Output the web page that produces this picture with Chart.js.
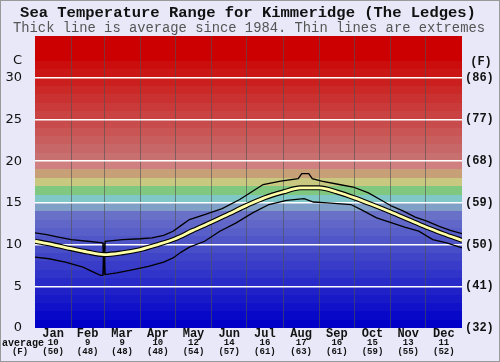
<!DOCTYPE html>
<html>
<head>
<meta charset="utf-8">
<script src="https://cdn.jsdelivr.net/npm/chart.js@4"></script>
<style>
  html, body { margin: 0; padding: 0; background: #e8e8f8; }
  canvas { display: block; }
</style>
</head>
<body>
<canvas id="seaChart" width="500" height="362"></canvas>
<script>
// month layout (day of year)
const monthStarts = [0, 31, 59, 90, 120, 151, 181, 212, 243, 273, 304, 334, 365];
const monthNames = ['Jan', 'Feb', 'Mar', 'Apr', 'May', 'Jun', 'Jul', 'Aug', 'Sep', 'Oct', 'Nov', 'Dec'];
const monthAvgC = ['10', '9', '9', '10', '12', '14', '16', '17', '16', '15', '13', '11'];
const monthAvgF = ['(50)', '(48)', '(48)', '(48)', '(54)', '(57)', '(61)', '(63)', '(61)', '(59)', '(55)', '(52)'];

// axis labels
const celsiusTicks = [0, 5, 10, 15, 20, 25, 30];
const fahrenheitTicks = ['(32)', '(41)', '(50)', '(59)', '(68)', '(77)', '(86)'];

// average since 1984
const avgDays = [0, 15, 31, 45, 59, 74, 90, 105, 120, 135, 151, 166, 181, 196, 212, 227, 243, 258, 273, 288, 304, 319, 334, 349, 365];
const avgTemps = [10.4, 10.0, 9.5, 9.1, 8.8, 9.0, 9.4, 10.0, 10.7, 11.7, 12.7, 13.7, 14.7, 15.6, 16.3, 16.8, 16.8, 16.3, 15.6, 14.8, 13.9, 13.0, 12.1, 11.3, 10.5];

// highest recorded
const maxDays = [0, 10, 20, 31, 45, 58, 59, 60, 75, 90, 100, 110, 118, 125, 132, 145, 160, 175, 186, 195, 210, 225, 228, 234, 237, 245, 260, 272, 285, 295, 305, 315, 325, 335, 345, 355, 365];
const maxTemps = [11.4, 11.2, 10.9, 10.6, 10.4, 10.2, 6.4, 10.4, 10.6, 10.7, 10.8, 11.1, 11.6, 12.3, 13.0, 13.6, 14.3, 15.4, 16.4, 17.2, 17.6, 17.9, 18.5, 18.5, 17.9, 17.6, 17.2, 16.9, 16.2, 15.4, 14.6, 14.0, 13.3, 12.8, 12.2, 11.7, 11.3];

// lowest recorded
const minDays = [0, 12, 26, 41, 50, 56, 58, 59, 60, 70, 84, 97, 110, 118, 125, 132, 145, 158, 172, 186, 200, 215, 230, 238, 250, 270, 280, 292, 305, 316, 328, 340, 352, 365];
const minTemps = [8.5, 8.3, 7.9, 7.3, 6.7, 6.3, 6.3, 10.2, 6.4, 6.6, 7.0, 7.4, 7.9, 8.4, 9.1, 9.7, 10.4, 11.6, 12.6, 13.8, 14.8, 15.3, 15.5, 15.1, 15.0, 14.8, 14.1, 13.2, 12.6, 12.1, 11.6, 10.6, 10.2, 9.6];

const toPoints = (xs, ys) => xs.map((x, i) => ({ x: x, y: ys[i] }));

// one colour band per degree, blue at the bottom to red at the top
function bandColour(t) {
    if (t < 14) return `rgb(${Math.round(t * 8)},${Math.round(t * 8.6)},200)`;
    const mid = { 14: 'rgb(128,160,200)', 15: 'rgb(128,200,200)', 16: 'rgb(128,200,128)',
                  17: 'rgb(200,200,128)', 18: 'rgb(200,160,120)', 19: 'rgb(208,128,128)' };
    if (mid[t]) return mid[t];
    if (t < 32) {
        const g = Math.max(0, 112 - (t - 20) * 9);
        return `rgb(${200 + Math.round((t - 20) / 3)},${g},${g})`;
    }
    return 'rgb(204,0,0)';
}

const bandsPlugin = {
    id: 'bands',
    beforeDraw(chart) {
        const { ctx, chartArea: a, scales: { y } } = chart;
        ctx.save();
        ctx.fillStyle = '#e8e8f8';
        ctx.fillRect(0, 0, chart.width, chart.height);
        for (let t = 0; t < 35; t++) {
            const yBottom = Math.round(y.getPixelForValue(t));
            const yTop = Math.round(y.getPixelForValue(t + 1));
            ctx.fillStyle = bandColour(t);
            ctx.fillRect(a.left, yTop, a.right - a.left, yBottom - yTop);
        }
        ctx.restore();
    }
};

const textPlugin = {
    id: 'texts',
    afterDraw(chart) {
        const { ctx, scales: { x } } = chart;
        ctx.save();
        ctx.textBaseline = 'middle';
        ctx.textAlign = 'center';
        ctx.fillStyle = '#111';
        ctx.font = 'bold 15.5px "Liberation Mono", monospace';
        ctx.fillText('Sea Temperature Range for Kimmeridge (The Ledges)', 248, 13);
        ctx.fillStyle = '#555';
        ctx.font = '13.8px "Liberation Mono", monospace';
        ctx.fillText('Thick line is average since 1984. Thin lines are extremes', 249, 28);

        ctx.fillStyle = '#111';
        ctx.textAlign = 'right';
        ctx.font = '13px "DejaVu Sans", sans-serif';
        ctx.fillText('C', 22, 61);
        ctx.textAlign = 'center';
        ctx.font = 'bold 12px "Liberation Mono", monospace';
        ctx.fillText('(F)', 481, 62);

        for (let i = 0; i < monthNames.length; i++) {
            const cx = x.getPixelForValue((monthStarts[i] + monthStarts[i + 1]) / 2);
            ctx.font = 'bold 12px "Liberation Mono", monospace';
            ctx.fillText(monthNames[i], cx, 334);
            ctx.font = 'bold 9px "Liberation Mono", monospace';
            ctx.fillText(monthAvgC[i], cx, 343);
            ctx.fillText(monthAvgF[i], cx, 352);
        }
        ctx.font = 'bold 10px "Liberation Mono", monospace';
        ctx.fillText('average', 23, 343);
        ctx.font = 'bold 9px "Liberation Mono", monospace';
        ctx.fillText('(F)', 20, 352);

        ctx.strokeStyle = '#999';
        ctx.lineWidth = 1;
        ctx.strokeRect(0.5, 0.5, chart.width - 1, chart.height - 1);
        ctx.restore();
    }
};

// first dataset is drawn on top, so the yellow average comes first
const ctx = document.getElementById('seaChart').getContext('2d');
new Chart(ctx, {
    type: 'line',
    data: {
        datasets: [
            {
                label: 'Average',
                data: toPoints(avgDays, avgTemps),
                borderColor: '#ffffa8',
                borderWidth: 2.8,
                pointRadius: 0,
                cubicInterpolationMode: 'monotone'
            },
            {
                label: 'Average outline',
                data: toPoints(avgDays, avgTemps),
                borderColor: '#000',
                borderWidth: 5,
                pointRadius: 0,
                cubicInterpolationMode: 'monotone'
            },
            {
                label: 'Max',
                data: toPoints(maxDays, maxTemps),
                borderColor: '#000',
                borderWidth: 1.3,
                pointRadius: 0,
                tension: 0
            },
            {
                label: 'Min',
                data: toPoints(minDays, minTemps),
                borderColor: '#000',
                borderWidth: 1.3,
                pointRadius: 0,
                tension: 0
            }
        ]
    },
    options: {
        responsive: false,
        animation: false,
        devicePixelRatio: 1,
        layout: { padding: { top: 36, left: 0, right: 0, bottom: 0 } },
        plugins: {
            legend: { display: false },
            tooltip: { enabled: false }
        },
        scales: {
            x: {
                type: 'linear',
                min: 0,
                max: 365,
                afterBuildTicks: (axis) => {
                    axis.ticks = monthStarts.slice(1, -1).map(v => ({ value: v }));
                },
                afterFit: (scale) => { scale.height = 34; },
                grid: { color: 'rgba(80,80,80,0.6)', lineWidth: 1, drawTicks: false },
                border: { display: false },
                ticks: { display: false }
            },
            y: {
                type: 'linear',
                position: 'left',
                min: 0,
                max: 35,
                afterBuildTicks: (axis) => {
                    axis.ticks = celsiusTicks.map(v => ({ value: v }));
                },
                afterFit: (scale) => { scale.width = 35; },
                grid: {
                    color: (c) => (c.tick.value > 0 ? '#ffffff' : 'rgba(0,0,0,0)'),
                    lineWidth: 1.5,
                    drawTicks: false
                },
                border: { display: false },
                ticks: {
                    padding: 13,
                    color: '#111',
                    font: { family: '"DejaVu Sans", sans-serif', size: 13 }
                }
            },
            yF: {
                type: 'linear',
                position: 'right',
                min: 0,
                max: 35,
                afterBuildTicks: (axis) => {
                    axis.ticks = celsiusTicks.map(v => ({ value: v }));
                },
                afterFit: (scale) => { scale.width = 38; },
                grid: { display: false, drawTicks: false },
                border: { display: false },
                ticks: {
                    padding: 3,
                    color: '#111',
                    font: { family: '"Liberation Mono", monospace', size: 12, weight: 'bold' },
                    callback: (v) => fahrenheitTicks[celsiusTicks.indexOf(v)]
                }
            }
        }
    },
    plugins: [bandsPlugin, textPlugin]
});
</script>
</body>
</html>
